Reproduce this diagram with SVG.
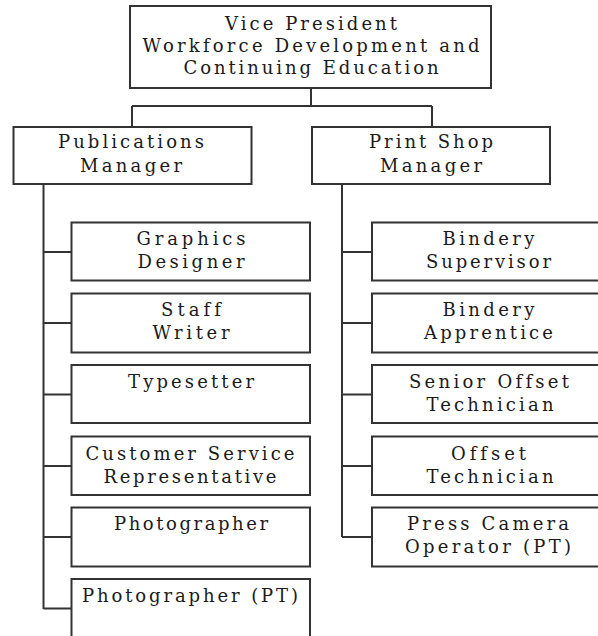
<svg xmlns="http://www.w3.org/2000/svg" width="598" height="636" viewBox="0 0 598 636">
  <style>
    .box { fill: #ffffff; stroke: #333333; stroke-width: 2; }
    .link { fill: none; stroke: #333333; stroke-width: 2; }
    text { font-family: "DejaVu Serif", "Liberation Serif", serif; font-size: 18px; fill: #1a1a1a; text-anchor: middle; font-variant-ligatures: none; font-feature-settings: "liga" 0, "clig" 0; }
  </style>
  <rect width="598" height="636" fill="#ffffff"/>

  <g id="connectors">
    <path class="link" d="M311 88 V106 M132 106 H432 M132 106 V127 M432 106 V127"/>
    <path class="link" d="M43.5 184 V609 M43.5 252 H71.5 M43.5 323 H71.5 M43.5 394.5 H71.5 M43.5 466 H71.5 M43.5 537 H71.5 M43.5 608.5 H71.5"/>
    <path class="link" d="M342 184 V537 M342 252 H372 M342 323 H372 M342 394.5 H372 M342 466 H372 M342 537 H372"/>
  </g>

  <g id="vice-president">
    <rect class="box" x="130" y="6" width="361" height="82"/>
    <text x="311" y="29.5" textLength="172" lengthAdjust="spacing">Vice President</text>
    <text x="311" y="52" textLength="337" lengthAdjust="spacing">Workforce Development and</text>
    <text x="311" y="73.5" textLength="255" lengthAdjust="spacing">Continuing Education</text>
  </g>

  <g id="publications-manager">
    <rect class="box" x="13.5" y="127" width="238" height="57"/>
    <text x="131" y="148" textLength="146" lengthAdjust="spacing">Publications</text>
    <text x="131" y="172" textLength="102" lengthAdjust="spacing">Manager</text>
  </g>

  <g id="print-shop-manager">
    <rect class="box" x="312" y="127" width="238" height="57"/>
    <text x="431" y="148" textLength="124" lengthAdjust="spacing">Print Shop</text>
    <text x="431" y="172" textLength="102" lengthAdjust="spacing">Manager</text>
  </g>

  <g id="graphics-designer">
    <rect class="box" x="71.5" y="222.5" width="238.5" height="58"/>
    <text x="191" y="244.5" textLength="109" lengthAdjust="spacing">Graphics</text>
    <text x="191" y="267.5" textLength="107" lengthAdjust="spacing">Designer</text>
  </g>

  <g id="staff-writer">
    <rect class="box" x="71.5" y="293.5" width="238.5" height="59"/>
    <text x="191" y="316" textLength="60" lengthAdjust="spacing">Staff</text>
    <text x="191" y="339" textLength="77" lengthAdjust="spacing">Writer</text>
  </g>

  <g id="typesetter">
    <rect class="box" x="71.5" y="365" width="238.5" height="58"/>
    <text x="191" y="388" textLength="126" lengthAdjust="spacing">Typesetter</text>
  </g>

  <g id="customer-service-representative">
    <rect class="box" x="71.5" y="436.5" width="238.5" height="58.5"/>
    <text x="190" y="460" textLength="209" lengthAdjust="spacing">Customer Service</text>
    <text x="190" y="483" textLength="173" lengthAdjust="spacing">Representative</text>
  </g>

  <g id="photographer">
    <rect class="box" x="71.5" y="507.5" width="238.5" height="59"/>
    <text x="191" y="530" textLength="154" lengthAdjust="spacing">Photographer</text>
  </g>

  <g id="photographer-pt">
    <rect class="box" x="71.5" y="579" width="238.5" height="62"/>
    <text x="190" y="602" textLength="216" lengthAdjust="spacing">Photographer (PT)</text>
  </g>

  <g id="bindery-supervisor">
    <rect class="box" x="372" y="222.5" width="238" height="58"/>
    <text x="488.5" y="244.5" textLength="92" lengthAdjust="spacing">Bindery</text>
    <text x="488.5" y="267.5" textLength="125" lengthAdjust="spacing">Supervisor</text>
  </g>

  <g id="bindery-apprentice">
    <rect class="box" x="372" y="293.5" width="238" height="59"/>
    <text x="488.5" y="316" textLength="92" lengthAdjust="spacing">Bindery</text>
    <text x="488.5" y="339" textLength="129" lengthAdjust="spacing">Apprentice</text>
  </g>

  <g id="senior-offset-technician">
    <rect class="box" x="372" y="365" width="238" height="58"/>
    <text x="489" y="388" textLength="160" lengthAdjust="spacing">Senior Offset</text>
    <text x="490" y="411" textLength="127" lengthAdjust="spacing">Technician</text>
  </g>

  <g id="offset-technician">
    <rect class="box" x="372" y="436.5" width="238" height="58.5"/>
    <text x="488.5" y="460" textLength="75" lengthAdjust="spacing">Offset</text>
    <text x="490" y="483" textLength="127" lengthAdjust="spacing">Technician</text>
  </g>

  <g id="press-camera-operator">
    <rect class="box" x="372" y="507.5" width="238" height="59"/>
    <text x="488" y="530" textLength="162" lengthAdjust="spacing">Press Camera</text>
    <text x="488" y="553" textLength="166" lengthAdjust="spacing">Operator (PT)</text>
  </g>
</svg>
